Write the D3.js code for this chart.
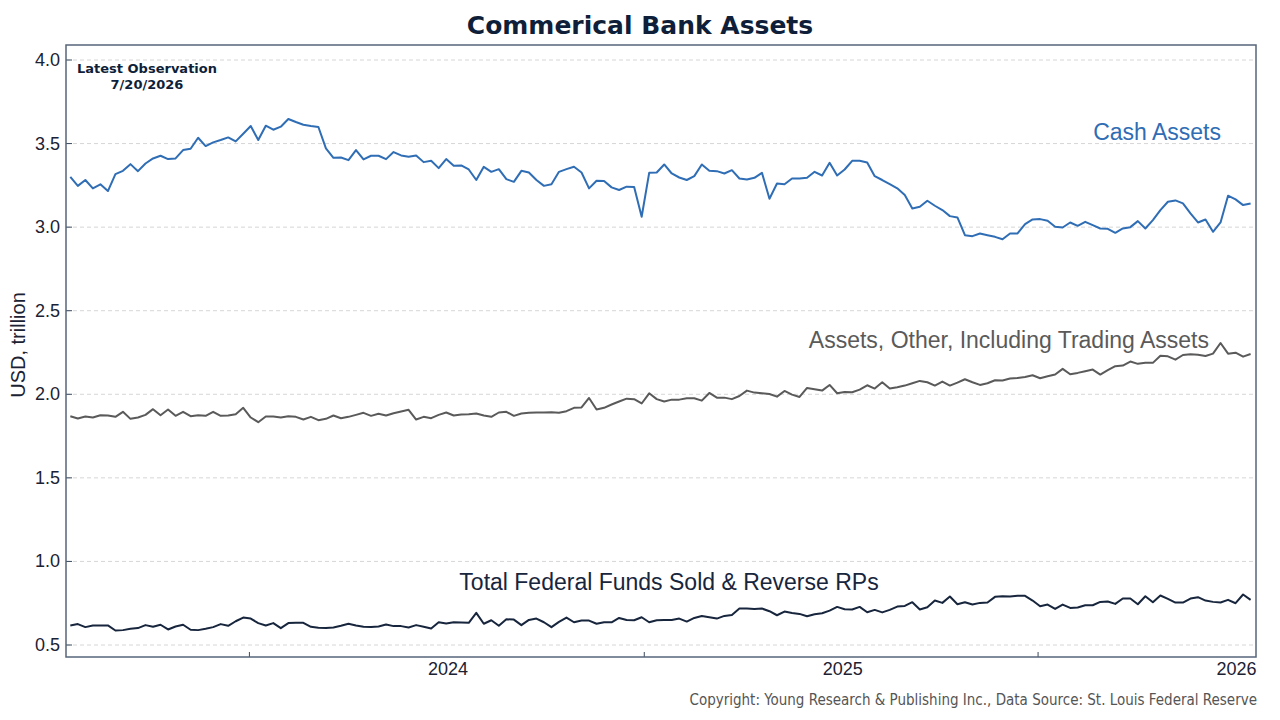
<!DOCTYPE html>
<html>
<head>
<meta charset="utf-8">
<script src="https://cdn.jsdelivr.net/npm/d3@7"></script>
<style>
  body { margin: 0; background: #fff; }
  svg { display: block; }
</style>
</head>
<body>
<svg id="chart" width="1280" height="720"></svg>
<script>
var cashAssets = [3.301, 3.247, 3.282, 3.232, 3.256, 3.216, 3.317, 3.337, 3.377, 3.335, 3.381, 3.411, 3.427, 3.407, 3.411, 3.461, 3.469, 3.535, 3.485, 3.507, 3.521, 3.537, 3.513, 3.559, 3.605, 3.521, 3.607, 3.583, 3.601, 3.647, 3.629, 3.613, 3.605, 3.599, 3.471, 3.415, 3.417, 3.401, 3.461, 3.405, 3.427, 3.427, 3.407, 3.449, 3.429, 3.421, 3.429, 3.389, 3.397, 3.353, 3.407, 3.367, 3.369, 3.345, 3.282,
  3.361, 3.331, 3.347, 3.287, 3.271, 3.337, 3.327, 3.282, 3.247, 3.257, 3.331, 3.347, 3.361, 3.327, 3.232, 3.278, 3.276, 3.238, 3.222, 3.242, 3.240, 3.062, 3.325, 3.327, 3.375, 3.321, 3.297, 3.282, 3.305, 3.375, 3.337, 3.335, 3.321, 3.341, 3.291, 3.285, 3.295, 3.325, 3.170, 3.261, 3.257, 3.291, 3.291, 3.295, 3.331, 3.309, 3.385, 3.309, 3.345, 3.397, 3.397, 3.387, 3.305,
  3.282, 3.257, 3.232, 3.192, 3.112, 3.122, 3.158, 3.128, 3.102, 3.066, 3.058, 2.952, 2.946, 2.962, 2.952, 2.942, 2.928, 2.962, 2.962, 3.018, 3.046, 3.048, 3.038, 3.002, 2.998, 3.028, 3.008, 3.032, 3.012, 2.992, 2.990, 2.966, 2.992, 3.000, 3.036, 2.992, 3.042, 3.102, 3.152, 3.160, 3.142, 3.082, 3.028, 3.046, 2.972, 3.028, 3.188, 3.166, 3.132, 3.142];

var otherAssets = [1.869, 1.855, 1.867, 1.861, 1.875, 1.873, 1.865, 1.895, 1.853, 1.861, 1.877, 1.911, 1.875, 1.909, 1.871, 1.895, 1.869, 1.875, 1.871, 1.895, 1.871, 1.873, 1.881, 1.919, 1.861, 1.833, 1.867, 1.867, 1.861, 1.869, 1.865, 1.849, 1.865, 1.845, 1.853, 1.873, 1.857, 1.865, 1.877, 1.889, 1.871, 1.883, 1.873, 1.887, 1.897, 1.907, 1.849, 1.865, 1.857, 1.877, 1.891, 1.873, 1.879, 1.881, 1.885,
  1.873, 1.865, 1.891, 1.895, 1.871, 1.885, 1.889, 1.891, 1.891, 1.893, 1.889, 1.899, 1.919, 1.921, 1.978, 1.909, 1.919, 1.939, 1.957, 1.974, 1.971, 1.945, 2.006, 1.971, 1.957, 1.968, 1.968, 1.976, 1.976, 1.962, 2.008, 1.980, 1.980, 1.971, 1.990, 2.022, 2.010, 2.006, 2.002, 1.986, 2.020, 1.998, 1.984, 2.038, 2.030, 2.022, 2.056, 2.006, 2.014, 2.012, 2.028, 2.054, 2.034,
  2.072, 2.034, 2.042, 2.052, 2.066, 2.080, 2.072, 2.052, 2.076, 2.052, 2.070, 2.090, 2.072, 2.056, 2.066, 2.084, 2.082, 2.094, 2.098, 2.104, 2.114, 2.096, 2.108, 2.118, 2.152, 2.120, 2.128, 2.138, 2.148, 2.118, 2.144, 2.168, 2.172, 2.196, 2.182, 2.188, 2.188, 2.231, 2.227, 2.207, 2.235, 2.239, 2.237, 2.229, 2.243, 2.307, 2.243, 2.249, 2.225, 2.241];

var fedFunds = [0.617, 0.625, 0.607, 0.617, 0.617, 0.617, 0.587, 0.589, 0.597, 0.601, 0.619, 0.609, 0.621, 0.593, 0.611, 0.621, 0.591, 0.589, 0.597, 0.607, 0.625, 0.615, 0.642, 0.664, 0.658, 0.631, 0.617, 0.631, 0.601, 0.631, 0.633, 0.633, 0.609, 0.603, 0.601, 0.605, 0.615, 0.627, 0.617, 0.609, 0.607, 0.611, 0.623, 0.613, 0.613, 0.605, 0.619, 0.609, 0.599, 0.636, 0.629, 0.636, 0.635, 0.633, 0.692,
  0.627, 0.648, 0.615, 0.654, 0.652, 0.619, 0.650, 0.658, 0.636, 0.607, 0.638, 0.664, 0.636, 0.646, 0.646, 0.627, 0.636, 0.636, 0.662, 0.650, 0.648, 0.666, 0.636, 0.648, 0.650, 0.650, 0.658, 0.640, 0.662, 0.674, 0.666, 0.658, 0.674, 0.680, 0.718, 0.718, 0.716, 0.718, 0.702, 0.678, 0.700, 0.692, 0.686, 0.672, 0.684, 0.690, 0.706, 0.728, 0.714, 0.712, 0.728, 0.696, 0.710,
  0.695, 0.710, 0.730, 0.734, 0.756, 0.712, 0.726, 0.766, 0.752, 0.790, 0.744, 0.756, 0.742, 0.752, 0.754, 0.788, 0.792, 0.790, 0.794, 0.794, 0.766, 0.732, 0.742, 0.716, 0.742, 0.722, 0.724, 0.738, 0.738, 0.758, 0.760, 0.746, 0.778, 0.778, 0.744, 0.792, 0.756, 0.796, 0.776, 0.754, 0.754, 0.778, 0.786, 0.766, 0.758, 0.754, 0.770, 0.750, 0.802, 0.770];

var yTicks = [0.5, 1.0, 1.5, 2.0, 2.5, 3.0, 3.5, 4.0];
var yearLabels = ["2024", "2025", "2026"];
var firstObs = new Date(2023, 0, 16),
    lastObs = new Date(2026, 0, 14);

var svg = d3.select("#chart"),
    plotLeft = 66, plotRight = 1256, plotTop = 45, plotBottom = 657;

var x = d3.scaleTime()
    .domain([new Date(2023, 0, 12), new Date(2026, 0, 19)])
    .range([plotLeft, plotRight]);
var y = d3.scaleLinear().domain([0.5, 4.0]).range([645, 60]);

// spread each series evenly over the observed window
function withDates(values) {
  var step = (lastObs - firstObs) / (values.length - 1);
  return values.map(function (v, i) {
    return { date: new Date(+firstObs + i * step), value: v };
  });
}

// gridlines
svg.append("g").selectAll("line").data(yTicks).join("line")
  .attr("x1", plotLeft).attr("x2", plotRight)
  .attr("y1", function (d) { return y(d); })
  .attr("y2", function (d) { return y(d); })
  .attr("stroke", "#d6d6d6").attr("stroke-dasharray", "4,3");

// y ticks and labels
svg.append("g").selectAll("line").data(yTicks).join("line")
  .attr("x1", plotLeft).attr("x2", plotLeft + 6)
  .attr("y1", function (d) { return y(d); })
  .attr("y2", function (d) { return y(d); })
  .attr("stroke", "#3b4a5e");
svg.append("g").selectAll("text").data(yTicks).join("text")
  .attr("x", plotLeft - 6).attr("y", function (d) { return y(d) + 6; })
  .attr("text-anchor", "end")
  .style("font", "18px 'Liberation Sans', Arial, sans-serif")
  .attr("fill", "#1b2233")
  .text(function (d) { return d.toFixed(1); });

// x: labels at year start, ticks at mid-year
var yearStarts = yearLabels.map(function (yr) { return new Date(+yr, 0, 1); });
var midYears = [new Date(2023, 6, 1), new Date(2024, 6, 1), new Date(2025, 6, 1)];
svg.append("g").selectAll("line").data(midYears).join("line")
  .attr("x1", function (d) { return x(d); }).attr("x2", function (d) { return x(d); })
  .attr("y1", plotBottom).attr("y2", plotBottom - 5)
  .attr("stroke", "#3b4a5e");
svg.append("g").selectAll("text").data(yearStarts).join("text")
  .attr("x", function (d) { return x(d); }).attr("y", 675)
  .attr("text-anchor", "middle")
  .style("font", "18px 'Liberation Sans', Arial, sans-serif")
  .attr("fill", "#1b2233")
  .text(function (d, i) { return yearLabels[i]; });

var line = d3.line()
  .x(function (d) { return x(d.date); })
  .y(function (d) { return y(d.value); });

var series = [
  { values: cashAssets, color: "#2f6db5" },
  { values: otherAssets, color: "#5a5a5a" },
  { values: fedFunds, color: "#17253d" }
];
series.forEach(function (s) {
  svg.append("path").datum(withDates(s.values))
    .attr("d", line).attr("fill", "none")
    .attr("stroke", s.color).attr("stroke-width", 2)
    .attr("stroke-linejoin", "round");
});

// frame
svg.append("rect").attr("x", plotLeft).attr("y", plotTop)
  .attr("width", plotRight - plotLeft).attr("height", plotBottom - plotTop)
  .attr("fill", "none").attr("stroke", "#56657a").attr("stroke-width", 1.5);

// series labels
var labelFont = "23px 'Liberation Sans', Arial, sans-serif";
svg.append("text").attr("x", 1221).attr("y", 140).attr("text-anchor", "end")
  .style("font", labelFont).attr("fill", "#2f6db5").text("Cash Assets");
svg.append("text").attr("x", 1209).attr("y", 348).attr("text-anchor", "end")
  .style("font", labelFont).attr("fill", "#5a5a5a").text("Assets, Other, Including Trading Assets");
svg.append("text").attr("x", 669).attr("y", 590).attr("text-anchor", "middle")
  .style("font", labelFont).attr("fill", "#17253d").text("Total Federal Funds Sold & Reverse RPs");

// title, notes
svg.append("text").attr("x", 640).attr("y", 34).attr("text-anchor", "middle")
  .style("font", "bold 25px 'DejaVu Sans', Verdana, sans-serif")
  .attr("fill", "#0f1f3a").text("Commerical Bank Assets");
svg.append("text").attr("x", 147).attr("y", 73).attr("text-anchor", "middle")
  .style("font", "bold 13px 'DejaVu Sans', Verdana, sans-serif")
  .attr("fill", "#0f1f3a").text("Latest Observation");
svg.append("text").attr("x", 147).attr("y", 89).attr("text-anchor", "middle")
  .style("font", "bold 13px 'DejaVu Sans', Verdana, sans-serif")
  .attr("fill", "#0f1f3a").text("7/20/2026");
svg.append("text").attr("transform", "translate(25,345) rotate(-90)")
  .attr("text-anchor", "middle")
  .style("font", "20px 'Liberation Sans', Arial, sans-serif")
  .attr("fill", "#1b2233").text("USD, trillion");
svg.append("text").attr("x", 1257).attr("y", 705).attr("text-anchor", "end")
  .style("font", "15px 'Liberation Sans Narrow', 'DejaVu Sans Condensed', sans-serif")
  .attr("fill", "#555").text("Copyright: Young Research & Publishing Inc., Data Source: St. Louis Federal Reserve");
</script>
</body>
</html>
